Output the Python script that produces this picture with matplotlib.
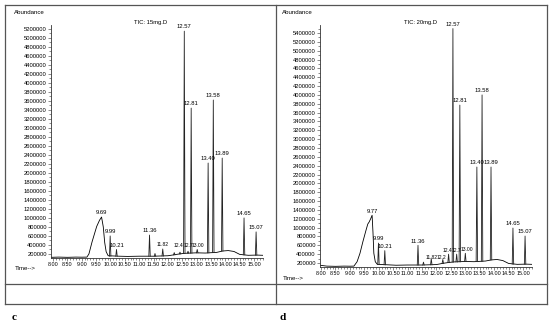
import matplotlib
matplotlib.use('Agg')
import matplotlib.pyplot as plt
from matplotlib.lines import Line2D
from matplotlib.ticker import MultipleLocator, FixedLocator

plt.rcParams['font.family'] = ['Liberation Sans Narrow', 'Liberation Sans', 'DejaVu Sans']

# ---- panel c : TIC 15mg.D ----
c_base_t = [7.93, 8.2, 8.5, 8.8, 9.0, 9.18, 9.25, 9.36, 9.52, 9.62, 9.69, 9.75, 9.80, 9.85,
            9.92, 10.3, 10.6, 11.0, 11.5, 12.0, 12.2, 12.4, 12.6, 13.0, 13.3, 13.7, 13.9,
            14.1, 14.3, 14.5, 14.8, 15.1, 15.3]
c_base_y = [125000, 130000, 125000, 130000, 128000, 130000, 200000, 470000, 810000, 950000,
            1020000, 800000, 450000, 250000, 160000, 150000, 145000, 150000, 150000, 160000,
            180000, 200000, 215000, 225000, 220000, 235000, 265000, 275000, 255000, 190000,
            170000, 175000, 170000]
c_peak_t = [9.99, 10.21, 11.36, 11.55, 11.82, 12.22, 12.42, 12.57, 12.70, 12.81, 13.02,
            13.40, 13.58, 13.89, 14.65, 15.07]
c_peak_h = [600000, 300000, 620000, 210000, 310000, 230000, 240000, 5150000, 260000, 3440000,
            300000, 2220000, 3620000, 2330000, 1000000, 690000]
c_peak_foot = [150000, 150000, 150000, 150000, 155000, 180000, 200000, 210000, 215000, 218000,
               225000, 225000, 230000, 265000, 180000, 172000]
c_labels = ['9.69', '9.99', '10.21', '11.36', '11.82', '12.4', '12.7', '13.00', '12.57',
            '12.81', '13.40', '13.58', '13.89', '14.65', '15.07']
c_label_t = [9.69, 9.99, 10.21, 11.36, 11.82, 12.37, 12.70, 13.05, 12.57, 12.81, 13.40,
             13.58, 13.89, 14.65, 15.07]
c_label_y = [1020000, 600000, 300000, 620000, 310000, 290000, 290000, 300000, 5150000,
             3440000, 2220000, 3620000, 2330000, 1000000, 690000]
c_yticks = list(range(200000, 5200001, 200000))

# ---- panel d : TIC 20mg.D ----
d_base_t = [7.96, 8.2, 8.5, 8.8, 9.0, 9.14, 9.25, 9.35, 9.45, 9.55, 9.62, 9.67, 9.72, 9.77,
            9.80, 9.83, 9.88, 9.95, 10.3, 10.6, 11.0, 11.5, 12.0, 12.2, 12.4, 12.6, 13.0,
            13.3, 13.7, 13.9, 14.1, 14.3, 14.5, 14.8, 15.1, 15.3]
d_base_y = [150000, 130000, 125000, 130000, 128000, 130000, 230000, 420000, 680000, 920000,
            1080000, 1130000, 1200000, 1280000, 900000, 420000, 230000, 170000, 160000, 150000,
            155000, 155000, 165000, 190000, 210000, 225000, 235000, 230000, 245000, 270000,
            280000, 255000, 190000, 170000, 175000, 170000]
d_peak_t = [9.99, 10.21, 11.36, 11.55, 11.82, 12.22, 12.42, 12.57, 12.70, 12.81, 13.00,
            13.40, 13.58, 13.89, 14.65, 15.07]
d_peak_h = [650000, 480000, 600000, 220000, 300000, 280000, 400000, 5500000, 400000, 3770000,
            420000, 2370000, 4000000, 2370000, 990000, 810000]
d_peak_foot = [165000, 160000, 155000, 155000, 160000, 190000, 210000, 220000, 225000, 228000,
               235000, 232000, 238000, 270000, 175000, 172000]
d_labels = ['9.77', '9.99', '10.21', '11.36', '11.82', '12.2', '12.4', '12.7', '13.00',
            '12.57', '12.81', '13.40', '13.58', '13.89', '14.65', '15.07']
d_label_t = [9.77, 9.99, 10.21, 11.36, 11.83, 12.18, 12.38, 12.69, 13.06, 12.57, 12.81,
             13.40, 13.58, 13.89, 14.65, 15.07]
d_label_y = [1280000, 650000, 480000, 600000, 240000, 240000, 400000, 400000, 420000,
             5500000, 3770000, 2370000, 4000000, 2370000, 990000, 810000]
d_yticks = list(range(200000, 5400001, 200000))

xticks = [8.0 + 0.5 * i for i in range(15)]

W, H = 550, 328
fig = plt.figure(figsize=(W / 100, H / 100), dpi=100)
fig.patch.set_facecolor('white')


def px_axes(x0, y0, x1, y1):
    return fig.add_axes([x0 / W, 1 - y1 / H, (x1 - x0) / W, (y1 - y0) / H])


def draw_panel(ax, bt, by, pt, ph, pf, labs, lt, ly, yticks, xlim, ylim, tic, tic_x):
    ax.set_xlim(*xlim)
    ax.set_ylim(*ylim)
    ax.plot(bt, by, color='black', lw=0.6)
    for t, h, f in zip(pt, ph, pf):
        ax.plot([t - 0.025, t, t + 0.025], [f, h, f], color='#222222', lw=0.6)
    for s, t, y in zip(labs, lt, ly):
        # the crowded little labels between 11.8 and 13.1 are drawn a bit smaller
        small = 11.7 < t < 13.1 and y < 500000
        ax.annotate(s, (t, y), xytext=(0, 1.2), textcoords='offset points',
                    ha='center', va='bottom', fontsize=3.6 if small else 4.2,
                    annotation_clip=False)
    ax.set_xticks(xticks)
    ax.set_xticklabels(['%.2f' % v for v in xticks])
    ax.xaxis.set_minor_locator(MultipleLocator(0.1))
    ax.yaxis.set_major_locator(FixedLocator(yticks))
    ax.set_yticklabels([str(v) for v in yticks])
    ax.yaxis.set_minor_locator(MultipleLocator(100000))
    ax.tick_params(which='both', direction='out', labelsize=4.2, color='#333333',
                   width=0.4, pad=1)
    ax.tick_params(axis='x', labelsize=3.9)
    ax.tick_params(which='major', length=2)
    ax.tick_params(which='minor', length=1.2)
    for s in ['top', 'right']:
        ax.spines[s].set_visible(False)
    for s in ['left', 'bottom']:
        ax.spines[s].set_linewidth(0.6)
        ax.spines[s].set_color('#333333')
    ax.patch.set_alpha(0)
    ax.text(tic_x, 1.0, tic, transform=ax.transAxes, fontsize=4.2, ha='right', va='bottom')


axc = px_axes(51, 25, 263, 258)
draw_panel(axc, c_base_t, c_base_y, c_peak_t, c_peak_h, c_peak_foot, c_labels, c_label_t,
           c_label_y, c_yticks, (7.93, 15.31), (110000, 5287000), 'TIC: 15mg.D', 0.547)

axd = px_axes(320, 25, 532, 267)
draw_panel(axd, d_base_t, d_base_y, d_peak_t, d_peak_h, d_peak_foot, d_labels, d_label_t,
           d_label_y, d_yticks, (7.965, 15.31), (110000, 5581000), 'TIC: 20mg.D', 0.552)

# header / footer texts in pixel positions
fig.text(14 / W, 1 - 12 / H, 'Abundance', fontsize=4.4, va='center', ha='left')
fig.text(282 / W, 1 - 12 / H, 'Abundance', fontsize=4.4, va='center', ha='left')
fig.text(15 / W, 1 - 268 / H, 'Time-->', fontsize=4.4, va='center', ha='left')
fig.text(283 / W, 1 - 278 / H, 'Time-->', fontsize=4.4, va='center', ha='left')
fig.text(12 / W, 1 - 317 / H, 'c', fontsize=8, fontweight='bold', family='Liberation Serif',
         va='center', ha='left')
fig.text(280 / W, 1 - 317 / H, 'd', fontsize=8, fontweight='bold', family='Liberation Serif',
         va='center', ha='left')

# frame lines
frame = '#555555'
for xs, ys in [([5, 547], [5, 5]), ([5, 547], [304, 304]), ([5, 5], [5, 304]),
               ([547, 547], [5, 304]), ([276, 276], [5, 304]), ([5, 547], [284, 284])]:
    fig.add_artist(Line2D([x / W for x in xs], [1 - y / H for y in ys], color=frame, lw=0.9))

fig.savefig('out.png', dpi=100, facecolor='white')
